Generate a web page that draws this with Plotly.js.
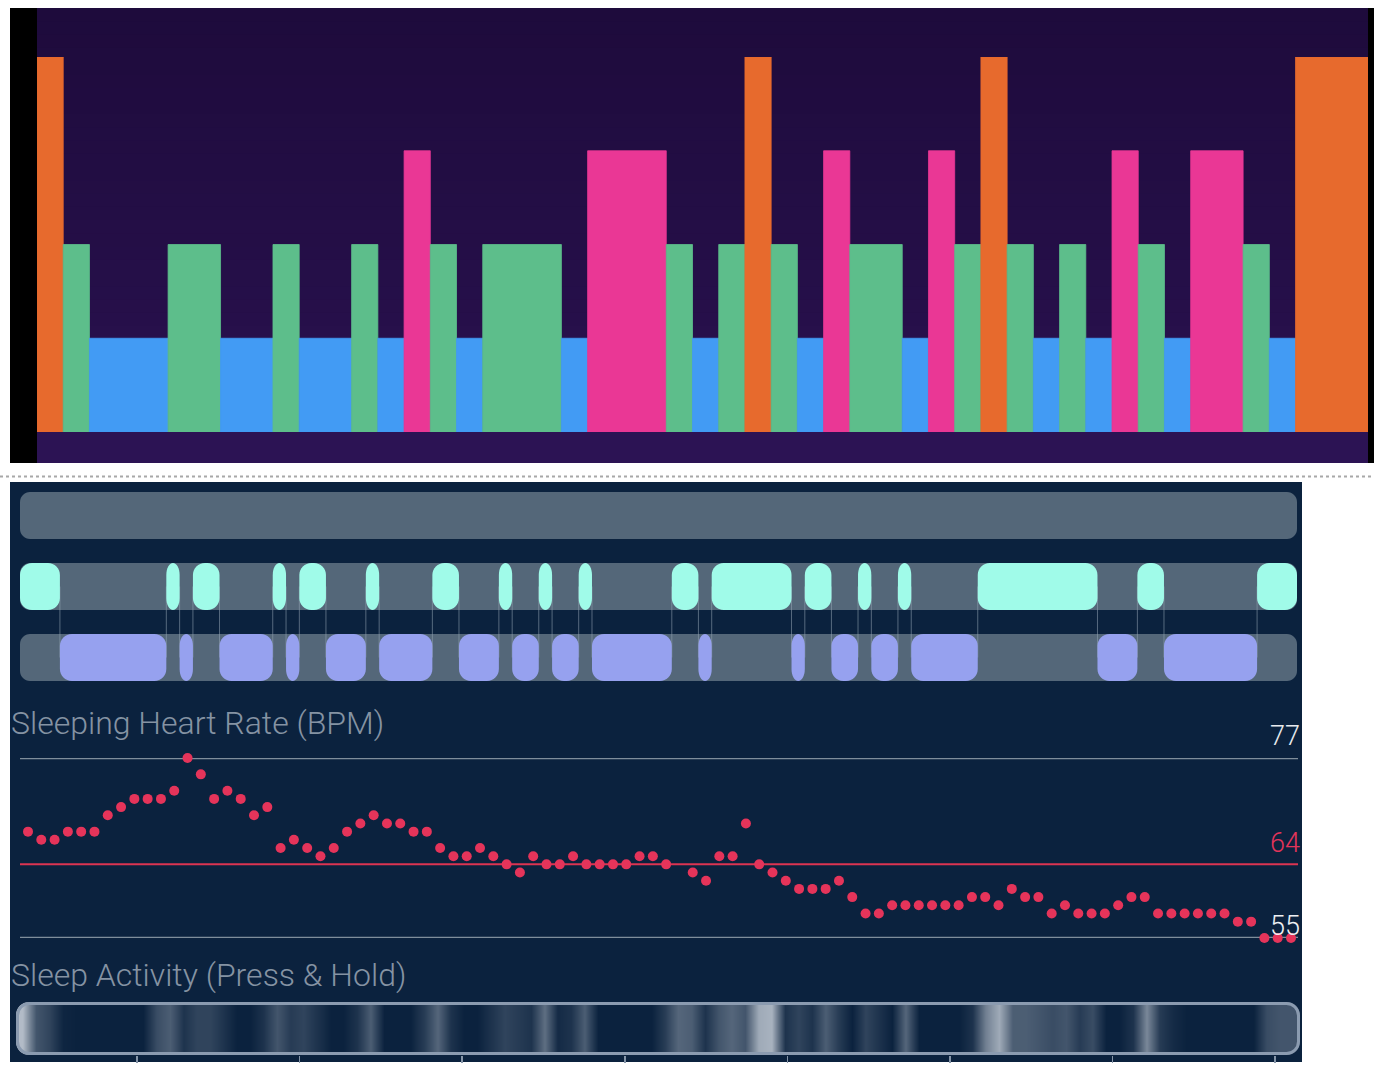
<!DOCTYPE html>
<html>
<head>
<meta charset="utf-8">
<script src="https://cdn.plot.ly/plotly-3.0.1.min.js"></script>
<style>html,body{margin:0;padding:0;background:#fff;}#chart{width:1374px;height:1072px;}</style>
</head>
<body>
<div id="chart"></div>
<script>
// ---------------- DATA ----------------
// Top hypnogram: stage sequence and durations (epochs)
const hypnoStages = ['wake','light','deep','light','deep','light','deep','light','deep','rem','light','deep','light','deep','rem','light','deep','light','wake','light','deep','rem','light','deep','rem','light','wake','light','deep','light','deep','rem','light','deep','rem','light','deep','wake'];
const hypnoDurations = [1,1,3,2,2,1,2,1,1,1,1,1,3,1,3,1,1,1,1,1,1,1,2,1,1,1,1,1,1,1,1,1,1,1,2,1,1,3];
const stageLevels = {wake:4, rem:3, light:2, deep:1};

// Middle timeline: alternating segments (row "light" = cyan, row "deep" = lavender)
const timelineStages = ['light','deep','light','deep','light','deep','light','deep','light','deep','light','deep','light','deep','light','deep','light','deep','light','deep','light','deep','light','deep','light','deep','light','deep','light','deep','light','deep','light','deep','light'];
const timelineDurations = [3,8,1,1,2,4,1,1,2,3,1,4,2,3,1,2,1,2,1,6,2,1,6,1,2,2,1,2,1,5,9,3,2,7,3];
const timelineRows = {light:1, deep:2};

// Sleeping heart rate (BPM), one value per epoch (null = no reading)
const heartRate = [68,67,67,68,68,68,70,71,72,72,72,73,77,75,72,73,72,70,71,66,67,66,65,66,68,69,70,69,69,68,68,66,65,
  65,66,65,64,63,65,64,64,65,64,64,64,64,65,65,64,null,63,62,65,65,69,64,63,62,61,61,61,62,60,58,58,59,
  59,59,59,59,59,60,60,59,61,60,60,58,59,58,58,58,59,60,60,58,58,58,58,58,58,57,57,55,55,55];
const heartRateAvg = 64;

// Sleep activity intensity (0..1) per epoch
const activity = [0.9,0.3,0.2,0.02,0,0,0,0,0,0, 0.25,0.35,0.1,0.2,0.2,0.1,0,0,0.1,0.3,
  0.15,0.2,0.1,0,0,0.1,0.35,0,0,0, 0.15,0.4,0.1,0,0,0.1,0.2,0.15,0.1,0.45,
  0.05,0.1,0.35,0,0,0,0,0,0.15,0.4, 0.35,0.1,0.3,0.4,0.3,0.8,0.85,0.1,0.2,0.1,
  0.35,0.15,0,0.2,0.1,0,0.4,0,0,0, 0,0.1,0.55,0.8,0.35,0.35,0.3,0.25,0.3,0.15,
  0.25,0,0,0.1,0.6,0.15,0.05,0,0,0, 0,0,0,0.25,0.3,0.3];
const activityTick0 = 9.05, activityTickStep = 12.157;   // hour marks (in epochs)

const titleHR = 'Sleeping Heart Rate (BPM)';
const titleActivity = 'Sleep Activity (Press & Hold)';

// ---------------- STYLE / LAYOUT HELPERS ----------------
const W = 1374, H = 1072;
const px = x => x / W;
const py = y => 1 - y / H;
const stageColors = {wake:'#e76a2d', rem:'#ea3795', light:'#5dbe8b', deep:'#429bf4'};
const timelineColors = {light:'#a0fbe9', deep:'#96a1ef'};
const NAVY = '#0b223e';
const K = 0.5523;

function rr(L, R, T, B, rx, ry) {
  const sy = Math.sign(B - T);
  const f = v => (+v).toFixed(6);
  return 'M' + f(L + rx) + ',' + f(T) +
    ' L' + f(R - rx) + ',' + f(T) +
    ' C' + f(R - rx + K * rx) + ',' + f(T) + ' ' + f(R) + ',' + f(T + sy * (ry - K * ry)) + ' ' + f(R) + ',' + f(T + sy * ry) +
    ' L' + f(R) + ',' + f(B - sy * ry) +
    ' C' + f(R) + ',' + f(B - sy * (ry - K * ry)) + ' ' + f(R - rx + K * rx) + ',' + f(B) + ' ' + f(R - rx) + ',' + f(B) +
    ' L' + f(L + rx) + ',' + f(B) +
    ' C' + f(L + rx - K * rx) + ',' + f(B) + ' ' + f(L) + ',' + f(B - sy * (ry - K * ry)) + ' ' + f(L) + ',' + f(B - sy * ry) +
    ' L' + f(L) + ',' + f(T + sy * ry) +
    ' C' + f(L) + ',' + f(T + sy * (ry - K * ry)) + ' ' + f(L + rx - K * rx) + ',' + f(T) + ' ' + f(L + rx) + ',' + f(T) + ' Z';
}

const shapes = [];
const rectPx = (x0, x1, y0, y1, color) => shapes.push({type:'rect', xref:'paper', yref:'paper', x0:px(x0), x1:px(x1), y0:py(y1), y1:py(y0), fillcolor:color, line:{width:0}, layer:'below'});

// top panel background
rectPx(10, 37, 8, 463, '#000000');
rectPx(1368, 1374, 8, 463, '#000000');
const c0 = [30, 11, 60], c1 = [41, 17, 79];
const NS = 32;
for (let i = 0; i < NS; i++) {
  const t = i / (NS - 1);
  const c = c0.map((v, j) => Math.round(v + (c1[j] - v) * t));
  const y0 = 8 + (432 - 8) * i / NS;
  rectPx(37, 1368, y0, 432, 'rgb(' + c.join(',') + ')');   // stacked strips: no seams
}
rectPx(37, 1368, 432, 463, '#2c1354');
// separator
shapes.push({type:'line', xref:'paper', yref:'paper', x0:0, x1:1, y0:py(476.5), y1:py(476.5), line:{color:'#a8a8a8', width:2, dash:'dot'}, layer:'below'});
// navy panel
rectPx(10, 1302, 482, 1062, NAVY);

// timeline (x2/y2): px scales
const tlTotal = timelineDurations.reduce((a, b) => a + b, 0);
const pxPerX2 = (1297 - 20) / tlTotal, pxPerY2 = 71, half = 23.5 / 71;
for (let r = 0; r < 3; r++) {
  shapes.push({type:'path', xref:'x2', yref:'y2', path: rr(0, tlTotal, r - half, r + half, 10 / pxPerX2, 10 / pxPerY2), fillcolor:'#546779', line:{width:0}, layer:'below'});
}
let acc = 0;
const tlStarts = timelineDurations.map(d => { const s = acc; acc += d; return s; });
for (let i = 1; i < timelineStages.length; i++) {
  shapes.push({type:'line', xref:'x2', yref:'y2', x0:tlStarts[i], x1:tlStarts[i], y0:1, y1:2, line:{color:'rgba(150,165,180,0.55)', width:1}, layer:'below'});
}
timelineStages.forEach((s, i) => {
  const w = timelineDurations[i] * pxPerX2;
  const rxp = Math.min(12, w / 2);
  const row = timelineRows[s];
  shapes.push({type:'path', xref:'x2', yref:'y2', path: rr(tlStarts[i], tlStarts[i] + timelineDurations[i], row - half, row + half, rxp / pxPerX2, 12 / pxPerY2), fillcolor:timelineColors[s], line:{width:0}, layer:'below'});
});

// heart rate lines
const hrVals = heartRate.filter(v => v !== null);
const hrMax = Math.max(...hrVals), hrMin = Math.min(...hrVals);
shapes.push({type:'line', xref:'x3 domain', yref:'y3', x0:0, x1:1, y0:hrMax, y1:hrMax, line:{color:'#7f8e9b', width:2.4}, layer:'below'});
shapes.push({type:'line', xref:'x3 domain', yref:'y3', x0:0, x1:1, y0:heartRateAvg, y1:heartRateAvg, line:{color:'#dc3452', width:2}, layer:'below'});
shapes.push({type:'line', xref:'x3 domain', yref:'y3', x0:0, x1:1, y0:hrMin, y1:hrMin, line:{color:'#7f8e9b', width:2.4}, layer:'below'});

// activity bar corner masks + border (above heatmap)
const AL = 16, AR = 1300, AT = 1002, AB = 1055, AR_ = 13;
const cornerMask = (cx, cy, sx, sy) => {
  const r = AR_;
  const p = (x, y) => px(x).toFixed(6) + ',' + py(y).toFixed(6);
  return 'M' + p(cx, cy) + ' L' + p(cx + sx * r, cy) +
    ' C' + p(cx + sx * (r - K * r), cy) + ' ' + p(cx, cy + sy * (r - K * r)) + ' ' + p(cx, cy + sy * r) + ' Z';
};
[[AL, AT, 1, 1], [AR, AT, -1, 1], [AL, AB, 1, -1], [AR, AB, -1, -1]].forEach(c => {
  shapes.push({type:'path', xref:'paper', yref:'paper', path: cornerMask(...c), fillcolor:NAVY, line:{width:0}, layer:'above'});
});
shapes.push({type:'path', xref:'paper', yref:'paper', path: rr(px(AL + 1.5), px(AR - 1.5), py(AT + 1.5), py(AB - 1.5), 12 / W, 12 / H), fillcolor:'rgba(0,0,0,0)', line:{color:'#8b9bb0', width:3}, layer:'above'});

// ---------------- TRACES ----------------
let hacc = 0;
const hypnoStarts = hypnoDurations.map(d => { const s = hacc; hacc += d; return s; });
const hypnoColors = hypnoStages.map(s => stageColors[s]);
const traces = [
  {type:'bar', x:hypnoStarts, y:hypnoStages.map(s => stageLevels[s]), width:hypnoDurations, offset:0, base:0,
   marker:{color:hypnoColors, line:{width:0.8, color:hypnoColors}}, xaxis:'x', yaxis:'y', hoverinfo:'skip'},
  {type:'scatter', mode:'markers', x:heartRate.map((v, i) => i), y:heartRate, xaxis:'x3', yaxis:'y3',
   marker:{size:10, color:'#e5345a'}, cliponaxis:false, hoverinfo:'skip'},
  {type:'heatmap', z:[activity], x0:0.5, dx:1, y:[0], xaxis:'x4', yaxis:'y4', zsmooth:'best',
   colorscale:[[0, NAVY], [1, '#c4ccd6']], zmin:0, zmax:1, showscale:false, hoverinfo:'skip'}
];

const hidden = {visible:false, fixedrange:true, showgrid:false, zeroline:false};
const titleFont = {family:'Roboto, "Open Sans", sans-serif', size:32, color:'#8593a3', weight:300};
const numFont = (c) => ({family:'Roboto, "Open Sans", sans-serif', size:27, color:c, weight:300});

const layout = {
  width:W, height:H, margin:{l:0, r:0, t:0, b:0},
  paper_bgcolor:'#ffffff', plot_bgcolor:'rgba(0,0,0,0)', showlegend:false,
  xaxis: Object.assign({}, hidden, {domain:[px(37), px(1368)], range:[0, 1331 / 26.22], anchor:'y'}),
  yaxis: Object.assign({}, hidden, {domain:[py(432), py(57)], range:[0, 4], anchor:'x'}),
  xaxis2: Object.assign({}, hidden, {domain:[px(20), px(1297)], range:[0, tlTotal], anchor:'y2'}),
  yaxis2: Object.assign({}, hidden, {domain:[py(693), py(480)], range:[2.5, -0.5], anchor:'x2'}),
  xaxis3: Object.assign({}, hidden, {domain:[px(20), px(1298)], range:[-8 / 13.295, heartRate.length - 1 + 7 / 13.295], anchor:'y3'}),
  yaxis3: Object.assign({}, hidden, {domain:[py(938), py(758)], range:[hrMin, hrMax], anchor:'x3'}),
  xaxis4: {domain:[px(AL), px(AR)], range:[0, activity.length], anchor:'y4', fixedrange:true,
           showgrid:false, zeroline:false, showline:false, showticklabels:false,
           ticks:'outside', ticklen:7, tickwidth:1.5, tickcolor:'#8595a8',
           tickmode:'linear', tick0:activityTick0, dtick:activityTickStep},
  yaxis4: Object.assign({}, hidden, {domain:[py(AB), py(AT)], range:[-0.5, 0.5], anchor:'x4'}),
  shapes: shapes,
  annotations: [
    {text:titleHR, xref:'paper', yref:'paper', x:px(9), y:py(723), xanchor:'left', yanchor:'middle', showarrow:false, font:titleFont},
    {text:titleActivity, xref:'paper', yref:'paper', x:px(9), y:py(975), xanchor:'left', yanchor:'middle', showarrow:false, font:titleFont},
    {text:String(hrMax), xref:'paper', yref:'y3', x:px(1302), y:hrMax, xanchor:'right', yanchor:'middle', yshift:22, showarrow:false, font:numFont('#e8ebef')},
    {text:String(heartRateAvg), xref:'paper', yref:'y3', x:px(1302), y:heartRateAvg, xanchor:'right', yanchor:'middle', yshift:21, showarrow:false, font:numFont('#e2345a')},
    {text:String(hrMin), xref:'paper', yref:'y3', x:px(1302), y:hrMin, xanchor:'right', yanchor:'middle', yshift:12, showarrow:false, font:numFont('#eef0f3')}
  ]
};

Plotly.newPlot('chart', traces, layout, {staticPlot:true, displayModeBar:false});
</script>
</body>
</html>
